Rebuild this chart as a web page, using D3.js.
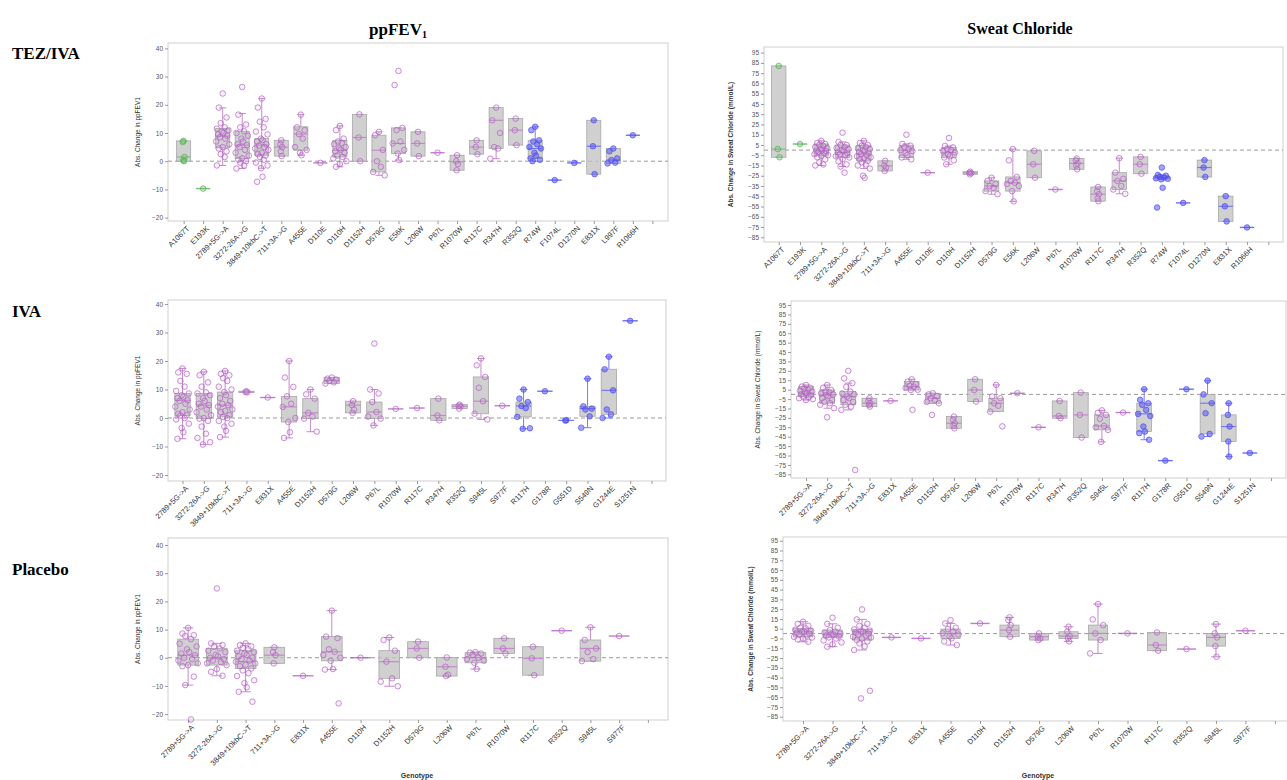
<!DOCTYPE html>
<html>
<head>
<meta charset="utf-8">
<script src="https://cdn.jsdelivr.net/npm/d3@7"></script>
<style>
  body { margin: 0; background: #fff; }
  svg { display: block; }
</style>
</head>
<body>
<svg id="chart" width="1287" height="780"></svg>
<script>
// ---------------- genotype categories ----------------
const tezCats = ["A1067T","E193K","2789+5G->A","3272-26A->G","3849+10kbC->T","711+3A->G","A455E","D110E","D110H","D1152H","D579G","E56K","L206W","P67L","R1070W","R117C","R347H","R352Q","R74W","F1074L","D1270N","E831X","L997F","R1066H"];
const tezGroups = ["g","g","p","p","p","p","p","p","p","p","p","p","p","p","p","p","p","p","b","b","b","b","b","b"];
const tezScCats = ["A1067T","E193K","2789+5G->A","3272-26A->G","3849+10kbC->T","711+3A->G","A455E","D110E","D110H","D1152H","D579G","E56K","L206W","P67L","R1070W","R117C","R347H","R352Q","R74W","F1074L","D1270N","E831X","R1066H"];
const tezScGroups = ["g","g","p","p","p","p","p","p","p","p","p","p","p","p","p","p","p","p","b","b","b","b","b"];
const ivaCats = ["2789+5G->A","3272-26A->G","3849+10kbC->T","711+3A->G","E831X","A455E","D1152H","D579G","L206W","P67L","R1070W","R117C","R347H","R352Q","S945L","S977F","R117H","G178R","G551D","S549N","G1244E","S1251N"];
const ivaGroups = ["p","p","p","p","p","p","p","p","p","p","p","p","p","p","p","p","b","b","b","b","b","b"];
const pboCats = ["2789+5G->A","3272-26A->G","3849+10kbC->T","711+3A->G","E831X","A455E","D110H","D1152H","D579G","L206W","P67L","R1070W","R117C","R352Q","S945L","S977F"];
const pboGroups = pboCats.map(() => "p");

// ---------------- tick values ----------------
const fevTicks = [-20, -10, 0, 10, 20, 30, 40];
const scTicks = [-85, -75, -65, -55, -45, -35, -25, -15, -5, 5, 15, 25, 35, 45, 55, 65, 75, 85, 95];

// ---------------- TEZ/IVA: ppFEV1 ----------------
// box rows: [whisker low, Q1, median, Q3, whisker high]
const tezFevBox = [
  [0,0,1.5,7.2,7.2],[-9.7,-9.7,-9.7,-9.7,-9.7],[-1.5,4.7,8.9,11.6,18.9],[-2.6,1,5.7,10.6,16.9],
  [-2.5,2.1,5.7,8,22.2],[1.8,1.8,5,7.4,7.4],[2.1,3.9,9.6,12.2,16.5],[-0.6,-0.6,-0.6,-0.6,-0.6],
  [-2,1.5,3.9,7.4,12.5],[0,0,8.4,16.6,16.6],[-5,-3.8,3.9,9.2,10.4],[0.4,2.7,6.3,11.8,11.8],
  [1.8,1.8,6.3,10.4,10.4],[3,3,3,3,3],[-3.2,-3.2,-0.2,2.1,2.1],[2.5,2.5,5,7.4,7.4],
  [0.9,4.5,14.5,19,19],[5.7,5.7,11,15.1,15.1],[0,1,4.5,7.4,12.2],[-6.7,-6.7,-6.7,-6.7,-6.7],
  [-0.6,-0.6,-0.6,-0.6,-0.6],[-4.6,-4.6,5.3,14.5,14.5],[-0.8,-0.8,0.4,4.5,4.5],[9.2,9.2,9.2,9.2,9.2]
];
const tezFevPts = [
  [7.2,6.8,1.5,0.3,0],[-9.7],
  [24,19,15.5,13.5,12,11.5,11,10.5,10,9.5,9,8.5,8,7,6,5,4.5,3.5,2.5,1.5,-1.5],
  [26.3,16.5,13,12,10.6,10,9,8,7,6,5.7,5,4,3,2,1,0.5,0,-0.5,-1.5,-2.6],
  [22.2,19,15,14,12,10.5,9.5,8,7.5,7,6,5.5,5,4.5,4,3,2.5,2,1.5,0.5,-0.5,-1.5,-2.5,-5.5,-7.3],
  [7.4,6,5,3.5,1.8],[16.5,12,11,9.6,8,5,4,3,2.1],[-0.6],
  [12.5,11,8,7,6.5,6,5,4.5,4,3.5,3,2,1.5,1,0,-1,-2],[16.6,8.4,0],[10.4,9.2,4,0,-2,-3.8,-5],
  [32,27,11.8,11,7,6.3,4,2.7,0.4],[10.4,6.3,1.8],[3],[2.1,0,-1,-3.2],[7.4,5,2.5],
  [19,14.5,10,5,4.5,0.9],[15.1,11,5.7],[12.2,11,7.4,7,6,5,4.5,3,2,1,0.5,0],[-6.7],[-0.6],
  [14.5,5.3,-4.6],[4.5,3.5,1,0.4,-0.5,-0.8],[9.2]
];

// ---------------- TEZ/IVA: sweat chloride ----------------
const tezScBox = [
  [-7,-7,1,82,82],[5.9,5.9,5.9,5.9,5.9],[-15,-5.6,-0.7,5.9,9],[-16,-7.2,-2.3,4.9,8],
  [-18,-10.5,-3.9,4.3,9],[-20.3,-20.3,-15.4,-10.5,-10.5],[-9,-7.2,0,4.3,6],[-22,-22,-22,-22,-22],
  [-13.8,-7.2,-2.3,2.6,4],[-23.6,-23.6,-22.3,-21,-21],[-43,-40,-35,-30,-27],[-50,-40,-31.8,-26.2,1],
  [-26.9,-26.9,-13.8,-0.7,-0.7],[-38.4,-38.4,-38.4,-38.4,-38.4],[-18.7,-18.7,-13,-8.2,-8.2],
  [-49.8,-49.8,-43,-36,-36],[-42.6,-38.4,-30,-22,-7.9],[-23,-23,-13.8,-6.6,-6.6],
  [-28.5,-28,-26.9,-25,-24.3],[-51.5,-51.5,-51.5,-51.5,-51.5],[-26.2,-26.2,-17,-9.8,-9.8],
  [-69.5,-69.5,-54.8,-44.9,-44.9],[-75.4,-75.4,-75.4,-75.4,-75.4]
];
const tezScPts = [
  [82,1,-7],[5.9],
  [9,7,5.9,5,4,3,2,1,0,-0.7,-1,-2,-3,-4,-5,-5.6,-7,-9,-12,-14,-15],
  [17,8,5,4.9,3,2,1,0,-1,-2.3,-3,-4,-5,-6,-7.2,-9,-11,-14,-16,-22],
  [9,7,5,4.3,3,2,1,0,-1,-2,-3,-3.9,-5,-6,-7,-8,-9,-10.5,-12,-14,-15,-18,-25,-27],
  [-10.5,-15,-17,-20.3],[15,6,4.3,3,1,0,-1,-3,-5,-7.2,-9],[-22],
  [11.8,4,2.6,1,0,-1,-2.3,-4,-6,-7.2,-10,-13.8],[-21,-22,-22.5,-23.6],
  [-27,-30,-33,-35,-37,-40,-43],[1,-10,-26.2,-30,-31.8,-33,-35,-40,-50],
  [-0.7,-13.8,-26.9],[-38.4],[-8.2,-10,-13,-15,-18.7],[-36,-40,-43,-47,-49.8],
  [-7.9,-22,-28,-30,-35,-38.4,-42.6],[-6.6,-13.8,-23],
  [-17,-24.3,-25,-26,-26.9,-27.5,-28,-28.5,-36.7,-56],[-51.5],[-9.8,-17,-26.2],
  [-44.9,-54.8,-69.5],[-75.4]
];

// ---------------- IVA: ppFEV1 ----------------
const ivaFevBox = [
  [-7.3,0.9,6.2,8.6,17.4],[-9.3,-0.2,4.5,8.6,16.2],[-6.7,0.4,4.5,9.1,16.5],[9,9,9.1,9.4,9.4],
  [7.2,7.2,7.2,7.2,7.2],[-7,-1.4,3.9,7.6,20],[-4.8,-0.2,1.8,6.8,10],[12.1,12.1,13.2,14.2,14.2],
  [1.8,1.8,4.5,5.9,5.9],[-2.6,-0.2,2.1,5.6,10],[3.2,3.2,3.2,3.2,3.2],[3.5,3.5,3.5,3.5,3.5],
  [-0.8,-0.8,0.9,6.8,6.8],[3.3,3.3,4.1,4.7,4.7],[-0.5,1.5,5.9,14.4,20.9],[4.3,4.3,4.3,4.3,4.3],
  [-3.8,0.4,4.2,5.6,10],[9.4,9.4,9.4,9.4,9.4],[-0.9,-0.9,-0.85,-0.8,-0.8],[-3.4,0.6,3.3,4.1,13.8],
  [0,1.3,9.7,17.1,21.5],[34.1,34.1,34.1,34.1,34.1]
];
const ivaFevPts = [
  [17.4,16,15.5,13,11,9.5,8.6,8,7.5,7,6.2,6,5,4,3,2,1.5,1,0.9,0,-0.5,-2,-3.5,-5,-7.3],
  [16.2,15,12.5,11,9,8.6,8,7,6,5,4.5,4,3,2,1,0,-0.2,-1,-3,-5.5,-7,-8.5,-9.3],
  [16.5,15.5,15,14,13,11,10,9.1,8,7,6,5,4.5,4,3,2.5,2,1,0.4,0,-1,-2,-3,-4.5,-6.7],
  [9.4,9.1,9],[7.2],[20,14.2,10.9,7.6,5,3.9,0,-1.4,-5,-7],[10,8.3,6.8,1.8,0.5,-0.2,-4.8],
  [14.2,13.8,13.5,13,12.5,12.1],[5.9,4.5,3,1.8],[26.1,10,8.6,5.6,2.1,0.5,-0.2,-2.6],[3.2],[3.5],
  [6.8,0.9,-0.8],[4.7,4.3,4.1,3.3],[20.9,18.5,14.4,10.6,5.9,1.5,-0.5],[4.3],
  [10,6.8,5.6,4.2,3.5,0.4,-3.6,-3.8],[9.4],[-0.8,-0.9],[13.8,4.1,3.3,3,0.6,-3.4],
  [21.5,17.1,9.7,3,1.3,0],[34.1]
];

// ---------------- IVA: sweat chloride ----------------
const ivaScBox = [
  [-6,-2.4,1.2,8.3,10],[-14.7,-9.4,-0.6,4.7,10],[-16.5,-11.1,-2.3,3,12],[-13,-13,-9.4,-4.1,-4.1],
  [-6.9,-6.9,-6.9,-6.9,-6.9],[4.7,4.7,8.3,13.6,16],[-9.4,-9.4,-4.1,1.2,1.2],[-36,-36,-30.7,-23.6,-23.6],
  [-7.6,-7.6,4.7,16.1,16.1],[-18.3,-18.3,-9.4,-4.1,10.1],[1.2,1.2,1.2,1.2,1.2],[-35,-35,-35,-35,-35],
  [-25.3,-25.3,-22.9,-7,-7],[-45.9,-45.9,-21.8,1.9,1.9],[-50.5,-37.7,-33.5,-21.8,-17],[-19.3,-19.3,-19.3,-19.3,-19.3],
  [-48.2,-39.5,-20.7,-9.4,5.5],[-70.4,-70.4,-70.4,-70.4,-70.4],[5.5,5.5,5.5,5.5,5.5],[-44.8,-42,-9.4,0,14.6],
  [-66.1,-50.1,-34.2,-21.8,-9.4],[-62.3,-62.3,-62.3,-62.3,-62.3]
];
const ivaScPts = [
  [10,8.3,7,6,5,4,3,2,1.2,0,-1,-2.4,-3,-4,-5,-6],
  [10,7,4.7,3,2,1,0,-0.6,-2,-4,-6,-8,-9.4,-11,-14.7,-24.3],
  [25,17,12,8,3,1,0,-2.3,-4,-6,-8,-11.1,-13,-16.5,-80.4],
  [-4.1,-7,-9.4,-11,-13],[-6.9],[16,13.6,11,9,8.3,7,5,4.7,-16.5],[1.2,0,-2,-4.1,-6,-8,-9.4,-21.8],
  [-23.6,-27,-30.7,-33,-36],[16.1,4.7,-7.6],[10.1,-2.3,-4.1,-9.4,-12,-18.3,-34],[1.2],[-35],
  [-7,-22.9,-25.3],[1.9,-21.8,-45.9],[-17,-19.6,-21.8,-26,-33.5,-35,-37.7,-50.5],[-19.3],
  [5.5,-5.8,-9.4,-11.1,-16.5,-20.7,-22.9,-34.2,-39.5,-41.2,-48.2],[-70.4],[5.5],
  [14.6,0,-9.4,-20,-42,-44.8],[-9.4,-21.8,-34.2,-50.1,-66.1],[-62.3]
];

// ---------------- Placebo: ppFEV1 ----------------
const pboFevBox = [
  [-9.7,-2.6,0.9,6.6,10.6],[-6.4,-2.6,0,3.3,5.1],[-12.1,-3.8,-1.4,2.5,5.1],[-2,-2,0.9,3.7,3.7],
  [-6.4,-6.4,-6.4,-6.4,-6.4],[-4.2,-1.1,2.1,7.5,16.7],[0,0,0,0,0],[-10.1,-7.3,-1.4,2.5,7.2],
  [0,0,3.3,5.7,5.7],[-6.5,-6.5,-3.2,0.1,0.1],[-4,-1.8,0,1.8,2],[1.5,1.5,3.3,6.9,6.9],
  [-6.2,-6.2,-0.2,3.9,3.9],[9.6,9.6,9.6,9.6,9.6],[-1.2,-1.2,3.3,6.3,10.8],[7.7,7.7,7.7,7.7,7.7]
];
const pboFevPts = [
  [10.6,8.6,8,7.7,6.6,5,4,3,2,1.5,0.9,0,-0.5,-1,-2,-2.6,-3,-6.7,-9.7,-21.9],
  [24.6,5.1,4.5,3.9,3.3,2.5,2,1,0.5,0,-0.5,-1,-1.5,-2,-2.6,-4,-5,-6.4],
  [5.1,4.5,4,3.5,3,2.5,2,1.5,1,0.5,0,-0.5,-1,-1.4,-2,-2.5,-3,-3.8,-4.5,-5.5,-6.5,-8,-9,-10.5,-12.1,-15.6],
  [3.7,2,0.9,-2],[-6.4],[16.7,7.5,7,3,2.1,1,0,-1.1,-4,-4.2,-16.2],[0],[7.2,6.3,2.5,-1.4,-7.3,-8.5,-10.1],
  [5.7,3.3,0],[0.1,-3.2,-6,-6.5],[2,1.8,1.5,1,0,-0.5,-1,-1.8,-4],[6.9,3.3,1.5],[3.9,-0.2,-6.2],
  [9.6],[10.8,6.3,3.3,2,-0.5,-1.2],[7.7]
];

// ---------------- Placebo: sweat chloride ----------------
const pboScBox = [
  [-8.4,-3.3,1.9,5.3,12.1],[-13.4,-3.9,-0.5,3.6,10],[-16.8,-6.6,1.9,4.3,14.5],[-3.9,-3.9,-3.9,-3.9,-3.9],
  [-4.9,-4.9,-4.9,-4.9,-4.9],[-11.7,-4.9,0.2,4.6,10.4],[10.4,10.4,10.4,10.4,10.4],[-3.2,-3.2,3.6,8.7,16.6],
  [-6.6,-6.6,-3.2,0.2,0.2],[-8,-4.9,-2.5,1.9,7],[-20.3,-6.6,0.2,8.7,30.2],[0.2,0.2,0.2,0.2,0.2],
  [-17.5,-17.5,-11.7,1.2,1.2],[-15.8,-15.8,-15.8,-15.8,-15.8],[-23.7,-12.8,-3.9,0.2,9.7],[2.9,2.9,2.9,2.9,2.9]
];
const pboScPts = [
  [12.1,10,8,6,5.3,4,3,2,1.9,1,0,-1,-2,-3.3,-4,-5,-6,-8.4],
  [16.2,10,6,3.6,2,1,0,-0.5,-1,-2,-3,-3.9,-5,-7,-9,-11,-13.4],
  [24.7,14.5,10,8,6,4.3,3,2,1.9,1,0,-1,-2,-3,-4,-5,-6.6,-8,-10,-13,-16.8,-58.5,-66.3],
  [-3.9],[-4.9],[13.8,10.4,6,4.6,2,0.2,-1,-3,-4.9,-8,-11.7],[10.4],[16.6,13.8,8.7,3.6,-3.2],
  [0.2,-3.2,-5,-6.6],[7,1.9,-2.5,-4.9,-8],[30.2,14.5,8.7,0.2,-6.6,-20.3],[0.2],[1.2,-11.7,-17.5],
  [-15.8],[9.7,0.2,-3.9,-12.8,-23.7],[2.9]
];

// ---------------- drawing ----------------
const svg = d3.select("#chart");
const FONT = "'Liberation Sans', Arial, sans-serif";
const SERIF = "'Liberation Serif', 'Times New Roman', serif";

const palette = {
  g: { stroke: "#4fae4f", fill: "#6cc46c", fillOp: 0.35, med: "#7fbf7f" },
  p: { stroke: "#b25cc2", fill: "#c88ad4", fillOp: 0.12, med: "#c58acb" },
  b: { stroke: "#4b4bf0", fill: "#5a5af5", fillOp: 0.55, med: "#7b7bf0" }
};

// column titles
svg.append("text").attr("x", 398).attr("y", 35).attr("text-anchor", "middle")
  .attr("font-family", SERIF).attr("font-weight", "bold").attr("font-size", 17)
  .text("ppFEV").append("tspan").attr("font-size", 10).attr("dy", 3).text("1");
svg.append("text").attr("x", 1020).attr("y", 34).attr("text-anchor", "middle")
  .attr("font-family", SERIF).attr("font-weight", "bold").attr("font-size", 16)
  .text("Sweat Chloride");

// row labels
[["TEZ/IVA", 59], ["IVA", 317], ["Placebo", 575]].forEach(([t, y]) => {
  svg.append("text").attr("x", 12).attr("y", y)
    .attr("font-family", SERIF).attr("font-weight", "bold").attr("font-size", 17)
    .text(t);
});

function drawPanel(cfg) {
  const g = svg.append("g");
  const cats = cfg.cats.concat([" "]);
  const x = d3.scalePoint().domain(cats).range([cfg.left, cfg.right]).padding(cfg.pad);
  const y = d3.scaleLinear().domain(cfg.domain).range([cfg.bottom, cfg.top]);
  const bw = x.step() * cfg.boxFrac;

  // frame
  g.append("rect").attr("x", cfg.left).attr("y", cfg.top)
    .attr("width", cfg.right - cfg.left).attr("height", cfg.bottom - cfg.top)
    .attr("fill", "none").attr("stroke", "#cfcfcf").attr("stroke-width", 1);

  // y axis
  const ya = g.append("g").attr("transform", `translate(${cfg.left},0)`)
    .call(d3.axisLeft(y).tickValues(cfg.ticks).tickSize(3).tickPadding(2));
  ya.select(".domain").remove();
  ya.selectAll("line").attr("stroke", "#999");
  ya.selectAll("text").attr("font-family", FONT).attr("font-size", 6.5).attr("fill", "#555");

  // x axis
  const xa = g.append("g").attr("transform", `translate(0,${cfg.bottom})`)
    .call(d3.axisBottom(x).tickSize(3).tickPadding(2));
  xa.select(".domain").remove();
  xa.selectAll("line").attr("stroke", "#999");
  xa.selectAll("text").attr("font-family", FONT).attr("font-size", 7.5).attr("fill", "#333")
    .attr("text-anchor", "end").attr("dx", "-0.2em").attr("dy", "0.5em")
    .attr("transform", "rotate(-45)");
  xa.selectAll(".tick text").attr("x", 0).attr("y", 6);

  // y axis title
  g.append("text")
    .attr("transform", `translate(${cfg.titleX},${(cfg.top + cfg.bottom) / 2}) rotate(-90)`)
    .attr("text-anchor", "middle").attr("font-family", FONT)
    .attr("font-size", cfg.titleSize).attr("font-weight", cfg.titleWeight).attr("fill", "#333")
    .text(cfg.yTitle);

  // zero reference line
  g.append("line").attr("x1", cfg.left).attr("x2", cfg.right)
    .attr("y1", y(0)).attr("y2", y(0))
    .attr("stroke", "#9a9a9a").attr("stroke-width", 1).attr("stroke-dasharray", "4,3");

  // boxes + whiskers
  cfg.cats.forEach((c, i) => {
    const [lo, q1, med, q3, hi] = cfg.box[i];
    const col = palette[cfg.groups[i]];
    const cx = x(c);
    const bg = g.append("g");
    if (q3 - q1 > 0.01) {
      bg.append("line").attr("x1", cx).attr("x2", cx).attr("y1", y(hi)).attr("y2", y(q3))
        .attr("stroke", col.med).attr("stroke-width", 1);
      bg.append("line").attr("x1", cx).attr("x2", cx).attr("y1", y(q1)).attr("y2", y(lo))
        .attr("stroke", col.med).attr("stroke-width", 1);
      [lo, hi].forEach(v => bg.append("line")
        .attr("x1", cx - bw * 0.25).attr("x2", cx + bw * 0.25).attr("y1", y(v)).attr("y2", y(v))
        .attr("stroke", col.med).attr("stroke-width", 1));
      bg.append("rect").attr("x", cx - bw / 2).attr("width", bw)
        .attr("y", y(q3)).attr("height", y(q1) - y(q3))
        .attr("fill", "#c4c4c4").attr("fill-opacity", 0.8)
        .attr("stroke", "#a8a8a8").attr("stroke-width", 0.8);
      bg.append("line").attr("x1", cx - bw / 2).attr("x2", cx + bw / 2)
        .attr("y1", y(med)).attr("y2", y(med))
        .attr("stroke", col.med).attr("stroke-width", 1.2);
    } else {
      bg.append("line").attr("x1", cx - bw / 2).attr("x2", cx + bw / 2)
        .attr("y1", y(med)).attr("y2", y(med))
        .attr("stroke", col.stroke).attr("stroke-width", 1.4).attr("stroke-opacity", 0.8);
    }
  });

  // individual observations with a fixed spread pattern
  const spread = [0, -0.5, 0.5, -0.25, 0.25, -0.75, 0.75, -0.1, 0.1, -0.6, 0.6, -0.35, 0.35, -0.85, 0.85];
  cfg.cats.forEach((c, i) => {
    const col = palette[cfg.groups[i]];
    const pts = cfg.pts[i];
    const w = pts.length > 5 ? bw * 0.55 : bw * 0.12;
    g.append("g").selectAll("circle").data(pts).join("circle")
      .attr("cx", (d, k) => x(c) + spread[k % spread.length] * w)
      .attr("cy", d => y(d))
      .attr("r", cfg.r)
      .attr("fill", col.fill).attr("fill-opacity", col.fillOp)
      .attr("stroke", col.stroke).attr("stroke-opacity", 0.75).attr("stroke-width", 0.9);
  });
}

const fevTitle = "Abs. Change in ppFEV1";
const scTitle = "Abs. Change in Sweat Chloride (mmol/L)";

drawPanel({ cats: tezCats, groups: tezGroups, box: tezFevBox, pts: tezFevPts,
  left: 168, right: 668, top: 43, bottom: 221, pad: 0.8, domain: [-21.2, 41.9], ticks: fevTicks,
  boxFrac: 0.72, r: 2.8, titleX: 140, yTitle: fevTitle, titleSize: 6.5, titleWeight: "normal" });
drawPanel({ cats: tezScCats, groups: tezScGroups, box: tezScBox, pts: tezScPts,
  left: 764, right: 1283, top: 47, bottom: 242, pad: 0.69, domain: [-89.6, 100.5], ticks: scTicks,
  boxFrac: 0.68, r: 2.8, titleX: 733, yTitle: scTitle, titleSize: 6.5, titleWeight: "bold" });
drawPanel({ cats: ivaCats, groups: ivaGroups, box: ivaFevBox, pts: ivaFevPts,
  left: 168, right: 666, top: 300, bottom: 481, pad: 0.68, domain: [-22.1, 41.4], ticks: fevTicks,
  boxFrac: 0.72, r: 2.8, titleX: 140, yTitle: fevTitle, titleSize: 6.5, titleWeight: "normal" });
drawPanel({ cats: ivaCats, groups: ivaGroups, box: ivaScBox, pts: ivaScPts,
  left: 791, right: 1286, top: 301, bottom: 478, pad: 0.71, domain: [-88.9, 99.3], ticks: scTicks,
  boxFrac: 0.7, r: 2.8, titleX: 760, yTitle: scTitle, titleSize: 6.5, titleWeight: "normal" });
drawPanel({ cats: pboCats, groups: pboGroups, box: pboFevBox, pts: pboFevPts,
  left: 168, right: 668, top: 538, bottom: 720, pad: 0.7, domain: [-22.1, 42.5], ticks: fevTicks,
  boxFrac: 0.72, r: 2.8, titleX: 140, yTitle: fevTitle, titleSize: 6.5, titleWeight: "normal" });
drawPanel({ cats: pboCats, groups: pboGroups, box: pboScBox, pts: pboScPts,
  left: 783, right: 1295, top: 537, bottom: 721, pad: 0.68, domain: [-89.4, 98.8], ticks: scTicks,
  boxFrac: 0.65, r: 2.8, titleX: 753, yTitle: scTitle, titleSize: 6.5, titleWeight: "bold" });

// x-axis titles along the lower edge
[[417, "Genotype"], [1038, "Genotype"]].forEach(([xx, t]) => {
  svg.append("text").attr("x", xx).attr("y", 778).attr("text-anchor", "middle")
    .attr("font-family", FONT).attr("font-weight", "bold").attr("font-size", 7).attr("fill", "#333")
    .text(t);
});
</script>
</body>
</html>
